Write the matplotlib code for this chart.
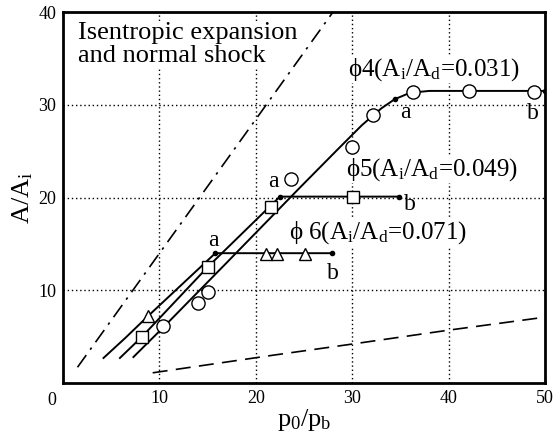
import matplotlib
matplotlib.use('Agg')
from matplotlib import pyplot as plt

# data
phi4_x = [10.4, 14.0, 15.0, 23.6, 30.0, 32.2, 36.3, 42.1, 48.9]
phi4_y = [6.1, 8.6, 9.8, 22.0, 25.4, 28.9, 31.4, 31.5, 31.4]
phi5_x = [8.2, 15.0, 21.6, 30.1]
phi5_y = [5.0, 12.5, 19.0, 20.1]
phi6_x = [8.8, 21.1, 22.2, 25.1]
phi6_y = [7.2, 13.9, 13.9, 13.9]

curve4_x = [7.3, 10.4, 17.0, 24.6, 28.5, 31.0, 33.0, 34.4, 36.0, 38.0, 50.0]
curve4_y = [2.8, 6.0, 13.0, 21.1, 25.2, 27.8, 29.6, 30.6, 31.3, 31.5, 31.5]
curve5_x = [5.9, 8.2, 15.0, 22.5, 34.9]
curve5_y = [2.7, 5.0, 12.5, 20.1, 20.1]
curve6_x = [4.2, 6.5, 8.8, 12.3, 15.8, 27.9]
curve6_y = [2.7, 4.9, 7.2, 10.6, 14.0, 14.0]

# a / b points (small dots)
dots_x = [34.4, 50.0, 22.5, 34.9, 15.8, 27.9]
dots_y = [30.6, 31.5, 20.1, 20.1, 14.0, 14.0]

isen_x = [1.5, 28.0]
isen_y = [1.7, 40.0]
dash_x = [9.3, 21.8, 30.0, 40.0, 50.0]
dash_y = [1.1, 3.0, 4.2, 5.7, 7.1]

plt.rcParams['font.family'] = ['Liberation Serif', 'DejaVu Serif']
plt.rcParams['mathtext.fontset'] = 'custom'
plt.rcParams['mathtext.rm'] = 'Liberation Serif'
plt.rcParams['mathtext.it'] = 'Liberation Serif:italic'

fig = plt.figure(figsize=(5.53, 4.32), dpi=100)
ax = fig.add_axes([0.114, 0.1134, 0.8715, 0.8586])

ax.set_xlim(0, 50)
ax.set_ylim(0, 40)
ax.set_xticks([10, 20, 30, 40, 50])
ax.set_yticks([10, 20, 30, 40])
ax.tick_params(length=0, labelsize=13, pad=5)
for s in ax.spines.values():
    s.set_linewidth(2)
ax.grid(True, color='black', linestyle=(0, (1, 2)), linewidth=1)
ax.text(-0.015, -0.025, '0', transform=ax.transAxes, ha='right', va='top', fontsize=13)

# reference lines
ax.plot(isen_x, isen_y, color='black', lw=1.2, linestyle=(0, (9, 4, 1.5, 4)), zorder=3)
ax.plot(dash_x, dash_y, color='black', lw=1.2, linestyle=(0, (9, 5)), zorder=3)

# fitted curves
for cx, cy in [(curve4_x, curve4_y), (curve5_x, curve5_y), (curve6_x, curve6_y)]:
    ax.plot(cx, cy, color='black', lw=1.4, zorder=3)
ax.plot(dots_x, dots_y, 'o', color='black', ms=3, zorder=4)

# measured points
ax.plot(phi4_x, phi4_y, 'o', mfc='white', mec='black', ms=9.5, mew=1, zorder=5)
ax.plot(phi5_x, phi5_y, 's', mfc='white', mec='black', ms=9, mew=1, zorder=5)
ax.plot(phi6_x, phi6_y, '^', mfc='white', mec='black', ms=9, mew=1, zorder=5)

box = dict(facecolor='white', edgecolor='none', pad=0)
ax.text(1.5, 38.9, 'Isentropic expansion\nand normal shock', fontsize=19,
        va='top', ha='left', linespacing=1.05, bbox=box, zorder=2)
ax.text(29.6, 33.8, 'ϕ4(A$_\\mathrm{i}$/A$_\\mathrm{d}$=0.031)', fontsize=18,
        va='center', ha='left', bbox=box, zorder=2)
ax.text(29.4, 23.0, 'ϕ5(A$_\\mathrm{i}$/A$_\\mathrm{d}$=0.049)', fontsize=18,
        va='center', ha='left', bbox=box, zorder=2)
ax.text(23.4, 16.2, 'ϕ 6(A$_\\mathrm{i}$/A$_\\mathrm{d}$=0.071)', fontsize=18,
        va='center', ha='left', bbox=box, zorder=2)

for lx, ly, t in [(35.5, 29.2, 'a'), (48.7, 29.1, 'b'), (21.8, 21.7, 'a'),
                  (36.0, 19.2, 'b'), (15.6, 15.4, 'a'), (28.0, 11.8, 'b')]:
    ax.text(lx, ly, t, fontsize=17, ha='center', va='center', zorder=6)

ax.set_xlabel('p$_0$/p$_\\mathrm{b}$', fontsize=19, labelpad=0)
ax.set_ylabel('A/A$_\\mathrm{i}$', fontsize=19, labelpad=2)

fig.savefig('out.png', dpi=100)
